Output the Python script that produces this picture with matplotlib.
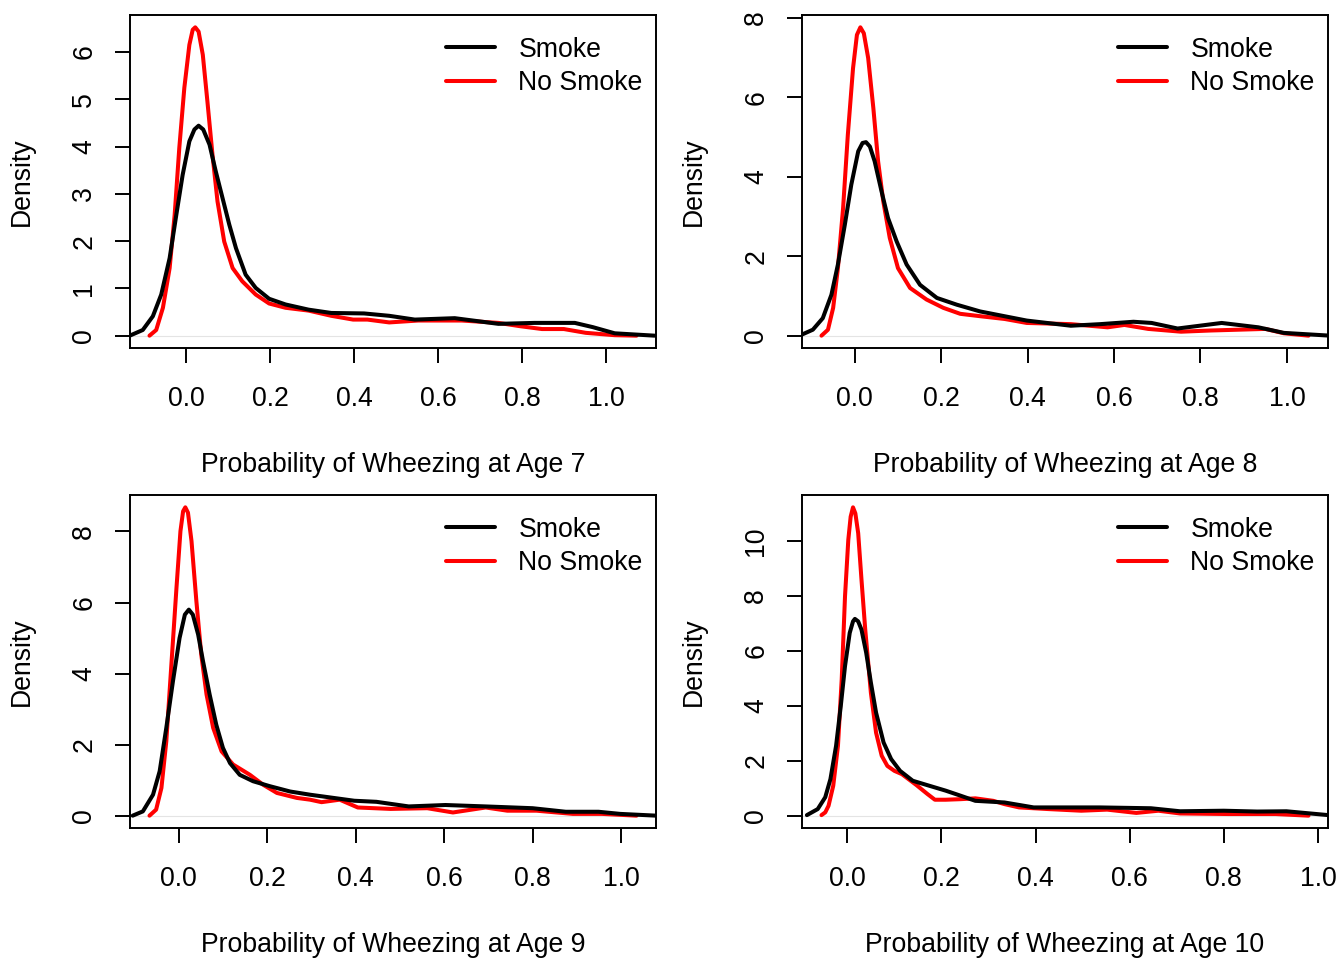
import matplotlib.pyplot as plt

plt.rcParams['font.family'] = ['Liberation Sans', 'DejaVu Sans']

ages = [7, 8, 9, 10]
legend_labels = ['Smoke', 'No Smoke']

# density curves, age 7
smoke7_x = [-0.135, -0.104, -0.080, -0.060, -0.040, -0.024, -0.009, 0.007, 0.019, 0.029,
            0.040, 0.055, 0.070, 0.086, 0.102, 0.118, 0.141, 0.165, 0.197, 0.236, 0.291,
            0.345, 0.423, 0.483, 0.544, 0.639, 0.743, 0.829, 0.925, 0.968, 1.02, 1.115]
smoke7_y = [0.0, 0.12, 0.41, 0.87, 1.64, 2.56, 3.40, 4.11, 4.36, 4.44,
            4.36, 4.04, 3.47, 2.91, 2.35, 1.85, 1.29, 1.01, 0.78, 0.66, 0.55,
            0.48, 0.47, 0.42, 0.34, 0.37, 0.25, 0.27, 0.27, 0.18, 0.05, 0.0]
nosmoke7_x = [-0.088, -0.072, -0.056, -0.040, -0.028, -0.017, -0.005, 0.007, 0.015, 0.021,
              0.029, 0.039, 0.050, 0.062, 0.074, 0.090, 0.110, 0.133, 0.165, 0.197, 0.236,
              0.291, 0.345, 0.397, 0.431, 0.483, 0.552, 0.656, 0.743, 0.795, 0.847, 0.899,
              0.951, 1.02, 1.072]
nosmoke7_y = [0.0, 0.12, 0.59, 1.43, 2.56, 3.97, 5.24, 6.15, 6.47, 6.52,
              6.43, 5.94, 4.95, 3.83, 2.84, 1.99, 1.43, 1.15, 0.87, 0.68, 0.59,
              0.53, 0.42, 0.34, 0.34, 0.28, 0.32, 0.32, 0.27, 0.20, 0.14, 0.14,
              0.06, 0.01, 0.0]

# age 8
smoke8_x = [-0.128, -0.097, -0.074, -0.054, -0.039, -0.023, -0.008, 0.008, 0.018, 0.026,
            0.035, 0.046, 0.062, 0.077, 0.097, 0.120, 0.151, 0.190, 0.236, 0.290, 0.398,
            0.5, 0.568, 0.645, 0.687, 0.747, 0.849, 0.934, 0.993, 1.1]
smoke8_y = [0.0, 0.15, 0.44, 1.03, 1.79, 2.79, 3.80, 4.64, 4.85, 4.87,
            4.76, 4.39, 3.63, 2.96, 2.37, 1.79, 1.28, 0.95, 0.78, 0.61, 0.38,
            0.25, 0.29, 0.35, 0.32, 0.18, 0.32, 0.21, 0.07, 0.0]
nosmoke8_x = [-0.077, -0.062, -0.050, -0.039, -0.027, -0.016, -0.004, 0.005, 0.013, 0.021,
              0.031, 0.043, 0.054, 0.066, 0.081, 0.100, 0.128, 0.166, 0.205, 0.244, 0.290,
              0.347, 0.398, 0.5, 0.585, 0.624, 0.679, 0.755, 0.823, 0.95, 0.993, 1.05]
nosmoke8_y = [0.0, 0.15, 0.70, 1.70, 3.21, 5.06, 6.73, 7.57, 7.76, 7.61,
              6.99, 5.73, 4.39, 3.38, 2.46, 1.70, 1.20, 0.91, 0.70, 0.55, 0.49,
              0.42, 0.32, 0.29, 0.21, 0.27, 0.17, 0.10, 0.13, 0.17, 0.06, 0.0]

# age 9
smoke9_x = [-0.104, -0.081, -0.058, -0.043, -0.028, -0.013, 0.002, 0.014, 0.023, 0.032,
            0.044, 0.055, 0.070, 0.085, 0.100, 0.116, 0.138, 0.168, 0.206, 0.252, 0.297,
            0.397, 0.447, 0.52, 0.603, 0.694, 0.8, 0.875, 0.949, 0.998, 1.08]
smoke9_y = [0.0, 0.12, 0.59, 1.25, 2.47, 3.78, 5.0, 5.66, 5.80, 5.66,
            5.10, 4.35, 3.41, 2.56, 1.91, 1.48, 1.15, 0.97, 0.83, 0.68, 0.59,
            0.42, 0.39, 0.26, 0.30, 0.26, 0.21, 0.11, 0.11, 0.05, 0.0]
nosmoke9_x = [-0.066, -0.051, -0.039, -0.028, -0.017, -0.005, 0.004, 0.010, 0.015, 0.021,
              0.029, 0.040, 0.051, 0.063, 0.078, 0.097, 0.123, 0.161, 0.191, 0.222, 0.267,
              0.297, 0.323, 0.364, 0.405, 0.479, 0.562, 0.62, 0.694, 0.743, 0.809, 0.891,
              0.957, 1.035]
nosmoke9_y = [0.0, 0.17, 0.78, 2.09, 4.16, 6.41, 8.01, 8.57, 8.68, 8.53,
              7.73, 6.04, 4.54, 3.41, 2.47, 1.81, 1.44, 1.15, 0.87, 0.64, 0.50,
              0.45, 0.38, 0.45, 0.23, 0.19, 0.21, 0.09, 0.23, 0.14, 0.14, 0.05,
              0.05, 0.0]

# age 10
smoke10_x = [-0.086, -0.063, -0.047, -0.036, -0.024, -0.014, -0.005, 0.005, 0.012, 0.016,
             0.023, 0.030, 0.040, 0.050, 0.061, 0.077, 0.093, 0.112, 0.139, 0.170, 0.209,
             0.240, 0.272, 0.334, 0.396, 0.458, 0.536, 0.645, 0.707, 0.8, 0.871, 0.933,
             1.022]
smoke10_y = [0.02, 0.24, 0.67, 1.33, 2.54, 3.99, 5.44, 6.65, 7.07, 7.16,
             7.07, 6.77, 5.93, 4.84, 3.75, 2.66, 2.06, 1.63, 1.27, 1.11, 0.91,
             0.73, 0.54, 0.48, 0.30, 0.30, 0.30, 0.27, 0.16, 0.18, 0.15, 0.16,
             0.02]
nosmoke10_x = [-0.055, -0.047, -0.040, -0.030, -0.020, -0.012, -0.005, 0.002, 0.007, 0.012,
               0.017, 0.023, 0.030, 0.038, 0.050, 0.061, 0.073, 0.085, 0.100, 0.116, 0.147,
               0.170, 0.186, 0.209, 0.240, 0.272, 0.310, 0.334, 0.365, 0.427, 0.497, 0.552,
               0.614, 0.661, 0.707, 0.809, 0.91, 0.98]
nosmoke10_y = [0.02, 0.12, 0.36, 1.09, 2.54, 4.96, 7.98, 10.04, 10.88, 11.22,
               11.0, 10.28, 8.59, 6.77, 4.47, 3.02, 2.18, 1.81, 1.63, 1.51, 1.11,
               0.79, 0.58, 0.58, 0.60, 0.63, 0.54, 0.42, 0.30, 0.24, 0.18, 0.22,
               0.10, 0.18, 0.08, 0.06, 0.06, 0.0]

y_ticks = [[0, 1, 2, 3, 4, 5, 6], [0, 2, 4, 6, 8], [0, 2, 4, 6, 8], [0, 2, 4, 6, 8, 10]]
x_ticks = [0.0, 0.2, 0.4, 0.6, 0.8, 1.0]

FS = 19.2
LW = 2.9


def pad_range(values, frac=0.04):
    """R style axis range: data range widened by 4 percent"""
    lo, hi = min(values), max(values)
    d = (hi - lo) * frac
    return lo - d, hi + d


def draw_panel(ax, sx, sy, nx, ny, yt, age):
    ax.axhline(0, color='#e4e4e4', lw=0.8, zorder=1)
    red, = ax.plot(nx, ny, color='#ff0000', lw=LW, solid_capstyle='round',
                   solid_joinstyle='round', zorder=2)
    black, = ax.plot(sx, sy, color='black', lw=LW, solid_capstyle='round',
                     solid_joinstyle='round', zorder=3)
    ax.set_xlim(pad_range(nx))
    ax.set_ylim(pad_range(ny))
    ax.set_xticks(x_ticks)
    ax.set_xticklabels([f'{t:.1f}' for t in x_ticks])
    ax.set_yticks(yt)
    ax.set_yticklabels([str(t) for t in yt], rotation=90, va='center')
    ax.tick_params(axis='both', direction='out', length=11, width=1.4, labelsize=FS)
    ax.tick_params(axis='x', pad=16.5)
    ax.tick_params(axis='y', pad=12.5)
    for sp in ax.spines.values():
        sp.set_linewidth(1.4)
    ax.set_xlabel(f'Probability of Wheezing at Age {age}', fontsize=FS, labelpad=28.5)
    ax.set_ylabel('Density', fontsize=FS, labelpad=26)
    ax.legend([black, red], legend_labels, loc='upper right',
              bbox_to_anchor=(1.0, 0.975), frameon=False,
              fontsize=FS, handlelength=1.87, handletextpad=0.86, labelspacing=0.28,
              borderaxespad=0.1, borderpad=0.4)


fig = plt.figure(figsize=(13.44, 9.6), dpi=100)
W, H = 1344, 960
lefts = [130, 802, 130, 802]
tops = [15, 15, 495, 495]
curves = [
    (smoke7_x, smoke7_y, nosmoke7_x, nosmoke7_y),
    (smoke8_x, smoke8_y, nosmoke8_x, nosmoke8_y),
    (smoke9_x, smoke9_y, nosmoke9_x, nosmoke9_y),
    (smoke10_x, smoke10_y, nosmoke10_x, nosmoke10_y),
]

for i, age in enumerate(ages):
    ax = fig.add_axes([lefts[i] / W, 1 - (tops[i] + 333) / H, 526 / W, 333 / H])
    sx, sy, nx, ny = curves[i]
    draw_panel(ax, sx, sy, nx, ny, y_ticks[i], age)

fig.savefig('out.png', dpi=100)
